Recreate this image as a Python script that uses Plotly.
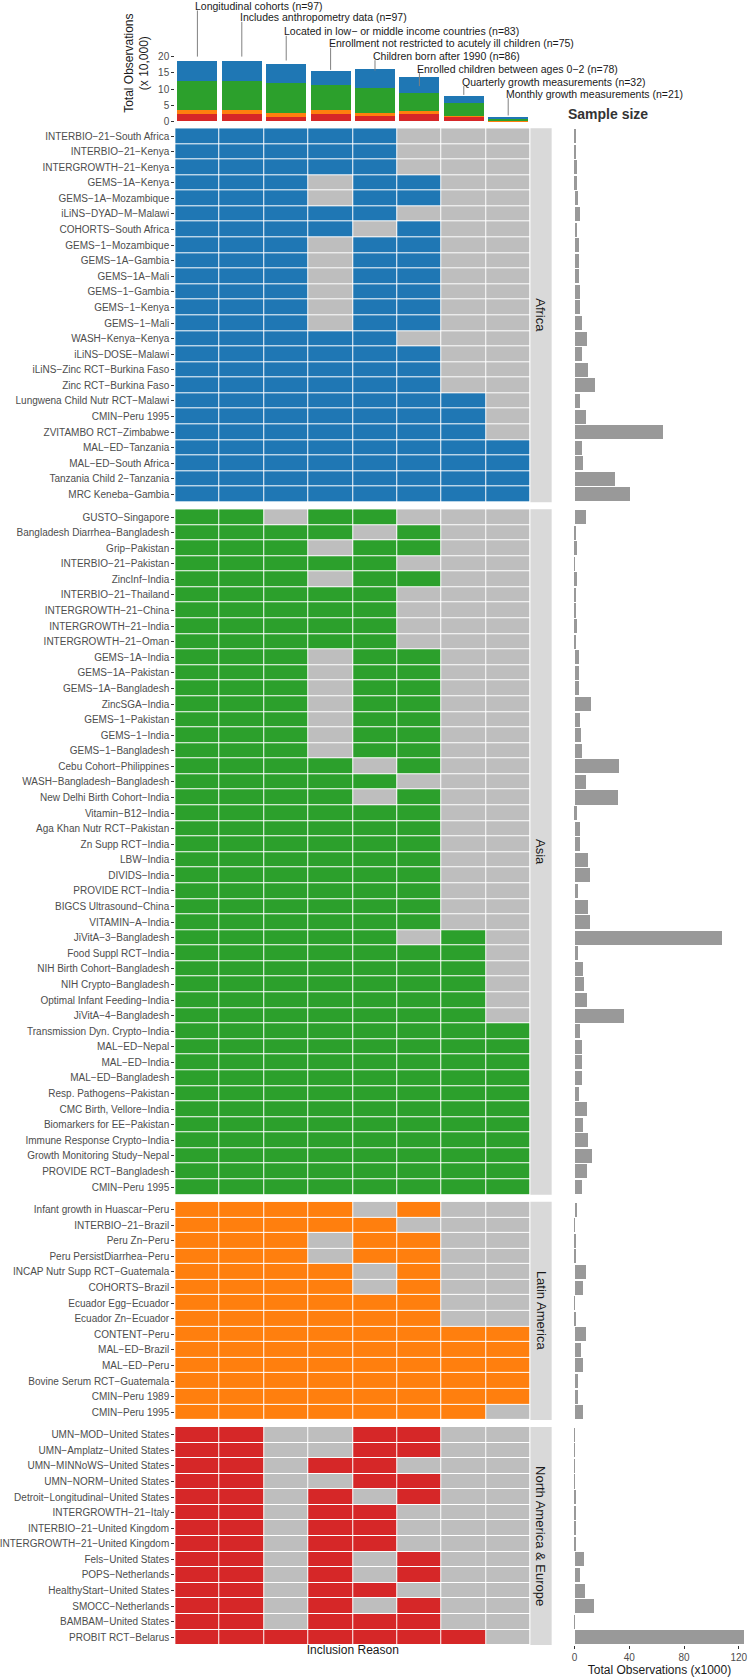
import plotly.graph_objects as go

W, H = 753, 1680
FONT = "Liberation Sans, Arial, Helvetica, sans-serif"

# ---------------- data ----------------
criteria = [
    "Longitudinal cohorts (n=97)",
    "Includes anthropometry data (n=97)",
    "Located in low\u2212 or middle income countries (n=83)",
    "Enrollment not restricted to acutely ill children (n=75)",
    "Children born after 1990 (n=86)",
    "Enrolled children between ages 0\u22122 (n=78)",
    "Quarterly growth measurements (n=32)",
    "Monthly growth measurements (n=21)",
]

region_names = ["Africa", "Asia", "Latin America", "North America & Europe"]
region_colors = ["#1f77b4", "#2ca02c", "#ff7f0e", "#d62728"]

# top stacked bars: total observations (x 10,000) by region per inclusion reason
top_africa = [6.0, 6.0, 5.8, 4.5, 5.9, 4.9, 2.3, 0.3]
top_asia = [9.1, 9.1, 9.2, 7.7, 7.9, 5.6, 3.9, 0.45]
top_latam = [1.1, 1.1, 1.2, 1.0, 0.7, 1.0, 0.2, 0.35]
top_naeu = [2.4, 2.4, 1.4, 2.4, 1.8, 2.2, 1.6, 0.0]

africa_studies = [
    "INTERBIO\u221221\u2212South Africa", "INTERBIO\u221221\u2212Kenya", "INTERGROWTH\u221221\u2212Kenya",
    "GEMS\u22121A\u2212Kenya", "GEMS\u22121A\u2212Mozambique", "iLiNS\u2212DYAD\u2212M\u2212Malawi",
    "COHORTS\u2212South Africa", "GEMS\u22121\u2212Mozambique", "GEMS\u22121A\u2212Gambia",
    "GEMS\u22121A\u2212Mali", "GEMS\u22121\u2212Gambia", "GEMS\u22121\u2212Kenya", "GEMS\u22121\u2212Mali",
    "WASH\u2212Kenya\u2212Kenya", "iLiNS\u2212DOSE\u2212Malawi", "iLiNS\u2212Zinc RCT\u2212Burkina Faso",
    "Zinc RCT\u2212Burkina Faso", "Lungwena Child Nutr RCT\u2212Malawi", "CMIN\u2212Peru 1995",
    "ZVITAMBO RCT\u2212Zimbabwe", "MAL\u2212ED\u2212Tanzania", "MAL\u2212ED\u2212South Africa",
    "Tanzania Child 2\u2212Tanzania", "MRC Keneba\u2212Gambia",
]
africa_inclusion = [
    "11111000", "11111000", "11111000", "11101100", "11101100", "11111000",
    "11110100", "11101100", "11101100", "11101100", "11101100", "11101100", "11101100",
    "11111000", "11111100", "11111100", "11111100", "11111110", "11111110",
    "11111110", "11111111", "11111111", "11111111", "11111111",
]
africa_obs = [0.7, 0.7, 1.4, 1.4, 2.2, 4.3, 1.7, 2.9, 3.1, 3.4, 3.9, 4.3, 5.1,
              8.9, 5.1, 9.9, 14.9, 4.1, 8.4, 64.3, 5.5, 6.0, 29.4, 40.2]

asia_studies = [
    "GUSTO\u2212Singapore", "Bangladesh Diarrhea\u2212Bangladesh", "Grip\u2212Pakistan",
    "INTERBIO\u221221\u2212Pakistan", "ZincInf\u2212India", "INTERBIO\u221221\u2212Thailand",
    "INTERGROWTH\u221221\u2212China", "INTERGROWTH\u221221\u2212India", "INTERGROWTH\u221221\u2212Oman",
    "GEMS\u22121A\u2212India", "GEMS\u22121A\u2212Pakistan", "GEMS\u22121A\u2212Bangladesh",
    "ZincSGA\u2212India", "GEMS\u22121\u2212Pakistan", "GEMS\u22121\u2212India", "GEMS\u22121\u2212Bangladesh",
    "Cebu Cohort\u2212Philippines", "WASH\u2212Bangladesh\u2212Bangladesh", "New Delhi Birth Cohort\u2212India",
    "Vitamin\u2212B12\u2212India", "Aga Khan Nutr RCT\u2212Pakistan", "Zn Supp RCT\u2212India",
    "LBW\u2212India", "DIVIDS\u2212India", "PROVIDE RCT\u2212India", "BIGCS Ultrasound\u2212China",
    "VITAMIN\u2212A\u2212India", "JiVitA\u22123\u2212Bangladesh", "Food Suppl RCT\u2212India",
    "NIH Birth Cohort\u2212Bangladesh", "NIH Crypto\u2212Bangladesh", "Optimal Infant Feeding\u2212India",
    "JiVitA\u22124\u2212Bangladesh", "Transmission Dyn. Crypto\u2212India", "MAL\u2212ED\u2212Nepal",
    "MAL\u2212ED\u2212India", "MAL\u2212ED\u2212Bangladesh", "Resp. Pathogens\u2212Pakistan",
    "CMC Birth, Vellore\u2212India", "Biomarkers for EE\u2212Pakistan", "Immune Response Crypto\u2212India",
    "Growth Monitoring Study\u2212Nepal", "PROVIDE RCT\u2212Bangladesh", "CMIN\u2212Peru 1995",
]
asia_inclusion = [
    "11011000", "11110100", "11101100", "11111000", "11101100", "11111000",
    "11111000", "11111000", "11111000", "11101100", "11101100", "11101100",
    "11101100", "11101100", "11101100", "11101100", "11110100", "11111000",
    "11110100", "11111100", "11111100", "11111100", "11111100", "11111100",
    "11111100", "11111100", "11111100", "11111010", "11111110", "11111110",
    "11111110", "11111110", "11111110", "11111111", "11111111", "11111111",
    "11111111", "11111111", "11111111", "11111111", "11111111", "11111111",
    "11111111", "11111111",
]
asia_obs = [8.4, 1.2, 1.4, 0.2, 1.4, 0.7, 0.7, 1.4, 1.2, 2.9, 2.9, 3.4,
            11.8, 4.3, 4.8, 5.3, 32.5, 8.4, 32.0, 1.4, 4.1, 3.6, 9.9, 11.1,
            2.2, 9.9, 11.3, 107.7, 2.4, 6.3, 7.0, 9.4, 35.9, 3.6, 5.5, 5.5,
            5.5, 3.1, 8.9, 6.5, 9.9, 12.8, 9.2, 5.3]

latam_studies = [
    "Infant growth in Huascar\u2212Peru", "INTERBIO\u221221\u2212Brazil", "Peru Zn\u2212Peru",
    "Peru PersistDiarrhea\u2212Peru", "INCAP Nutr Supp RCT\u2212Guatemala", "COHORTS\u2212Brazil",
    "Ecuador Egg\u2212Ecuador", "Ecuador Zn\u2212Ecuador", "CONTENT\u2212Peru", "MAL\u2212ED\u2212Brazil",
    "MAL\u2212ED\u2212Peru", "Bovine Serum RCT\u2212Guatemala", "CMIN\u2212Peru 1989", "CMIN\u2212Peru 1995",
]
latam_inclusion = [
    "11110100", "11111000", "11101100", "11101100", "11110100", "11110100",
    "11111100", "11111100", "11111111", "11111111", "11111111", "11111111",
    "11111111", "11111110",
]
latam_obs = [1.9, 0.2, 1.2, 1.2, 8.0, 5.8, 0.2, 1.0, 8.4, 4.6, 5.8, 2.4, 2.7, 5.8]

naeu_studies = [
    "UMN\u2212MOD\u2212United States", "UMN\u2212Amplatz\u2212United States", "UMN\u2212MINNoWS\u2212United States",
    "UMN\u2212NORM\u2212United States", "Detroit\u2212Longitudinal\u2212United States", "INTERGROWTH\u221221\u2212Italy",
    "INTERBIO\u221221\u2212United Kingdom", "INTERGROWTH\u221221\u2212United Kingdom", "Fels\u2212United States",
    "POPS\u2212Netherlands", "HealthyStart\u2212United States", "SMOCC\u2212Netherlands",
    "BAMBAM\u2212United States", "PROBIT RCT\u2212Belarus",
]
naeu_inclusion = [
    "11001100", "11001100", "11011000", "11001100", "11010100", "11011000",
    "11011000", "11011000", "11010100", "11010100", "11011000", "11010100",
    "11011100", "11111110",
]
naeu_obs = [0.3, 0.3, 0.1, 0.1, 1.0, 0.7, 0.6, 0.7, 6.7, 3.6, 7.5, 14.2, 0.3, 124.1]

# ---------------- layout constants (pixels) ----------------
label_y = [35.6, 32.1, 27.8, 24.1, 20.3, 16.3, 12.3, 8.6]
line_end = [20.0, 20.0, 18.8, 15.9, 15.7, 10.9, 8.2, 1.85]

HM_L, HM_R = 169, 528
STRIP_L, STRIP_R = 528, 549.5
BAR_L, BAR_R = 564.1, 752.9
TOP_T, TOP_B = 2, 124.5
ROW_H = 15.61
GAP = 7.0
FACET_TOP0 = 128.5


def px_x(p):
    return p / W


def px_y(p):
    return 1 - p / H


studies = [africa_studies, asia_studies, latam_studies, naeu_studies]
inclusion = [africa_inclusion, asia_inclusion, latam_inclusion, naeu_inclusion]
obs = [africa_obs, asia_obs, latam_obs, naeu_obs]
tops = [top_africa, top_asia, top_latam, top_naeu]

fig = go.Figure()
layout = dict(
    width=W, height=H, margin=dict(l=0, r=0, t=0, b=0),
    paper_bgcolor="white", plot_bgcolor="white",
    showlegend=False, barmode="stack",
    font=dict(family=FONT, color="#4d4d4d", size=10),
)

# ---------- top stacked bar chart ----------
xs = list(range(len(criteria)))
for r in [3, 2, 1, 0]:
    fig.add_trace(go.Bar(
        x=xs, y=tops[r], width=0.9, marker=dict(color=region_colors[r], line=dict(width=0)),
        xaxis="x", yaxis="y", hoverinfo="skip"))

zero_px = 121.7
ppu = 3.25
layout["xaxis"] = dict(domain=[px_x(HM_L), px_x(HM_R)], range=[-0.5, 7.5], showgrid=False,
                       zeroline=False, showticklabels=False, ticks="", fixedrange=True)
layout["yaxis"] = dict(domain=[px_y(TOP_B), px_y(TOP_T)],
                       range=[-(TOP_B - zero_px) / ppu, (zero_px - TOP_T) / ppu],
                       tickvals=[0, 5, 10, 15, 20], ticks="outside", ticklen=3, tickcolor="#333333",
                       showgrid=False, zeroline=False, showline=False, fixedrange=True,
                       tickfont=dict(size=10, color="#4d4d4d"),
                       title=dict(text="Total Observations<br>(x 10,000)",
                                  font=dict(size=12, color="#1a1a1a"), standoff=6))

shapes = []
annotations = []
for i, txt in enumerate(criteria):
    annotations.append(dict(x=i, y=label_y[i], xref="x", yref="y", text=txt, showarrow=False,
                            xanchor="left", yanchor="middle", xshift=-4,
                            font=dict(size=10.5, color="#1a1a1a")))
    shapes.append(dict(type="line", xref="x", yref="y", x0=i, x1=i,
                       y0=label_y[i] - 1.4, y1=line_end[i],
                       line=dict(color="#808080", width=1)))

annotations.append(dict(x=px_x(BAR_L), y=px_y(114), xref="paper", yref="paper", text="<b>Sample size</b>",
                        showarrow=False, xanchor="left", yanchor="middle",
                        font=dict(size=14, color="#333333")))

# ---------- facets ----------
top_px = FACET_TOP0
for f in range(4):
    n = len(studies[f])
    bot_px = top_px + n * ROW_H
    hx, hy = 2 + 2 * f, 2 + 2 * f
    bx, by = 3 + 2 * f, 3 + 2 * f
    z = [[int(c) for c in s] for s in inclusion[f]]
    col = region_colors[f]
    fig.add_trace(go.Heatmap(
        z=z, x=xs, y=list(range(n)), zmin=0, zmax=1, showscale=False,
        colorscale=[[0, "#bebebe"], [0.5, "#bebebe"], [0.5, col], [1, col]],
        xgap=1, ygap=1, xaxis=f"x{hx}", yaxis=f"y{hy}", hoverinfo="skip"))
    fig.add_trace(go.Bar(
        x=obs[f], y=list(range(n)), orientation="h", width=0.9,
        marker=dict(color="#999999", line=dict(width=0)),
        xaxis=f"x{bx}", yaxis=f"y{by}", hoverinfo="skip"))

    ydom = [px_y(bot_px), px_y(top_px)]
    last = f == 3
    layout[f"xaxis{hx}"] = dict(domain=[px_x(HM_L), px_x(HM_R)], range=[-0.5, 7.5], anchor=f"y{hy}",
                                showgrid=False, zeroline=False, showticklabels=False, ticks="",
                                fixedrange=True,
                                title=dict(text="Inclusion Reason" if last else "",
                                           font=dict(size=12, color="#1a1a1a"), standoff=0))
    layout[f"yaxis{hy}"] = dict(domain=ydom, range=[n - 0.5, -0.5], anchor=f"x{hx}",
                                tickmode="array", tickvals=list(range(n)), ticktext=studies[f],
                                ticks="outside", ticklen=3, tickcolor="#333333",
                                showgrid=False, zeroline=False, showline=False, fixedrange=True,
                                tickfont=dict(size=10, color="#4d4d4d"))
    layout[f"xaxis{bx}"] = dict(domain=[px_x(BAR_L), px_x(BAR_R)], range=[-6.2, 130.3], anchor=f"y{by}",
                                showgrid=False, zeroline=False, fixedrange=True,
                                showticklabels=last, ticks="outside" if last else "",
                                tickvals=[0, 40, 80, 120], ticklen=3, tickcolor="#333333",
                                tickfont=dict(size=10, color="#4d4d4d"),
                                title=dict(text="Total Observations (x1000)" if last else "",
                                           font=dict(size=12, color="#1a1a1a"), standoff=2))
    layout[f"yaxis{by}"] = dict(domain=ydom, range=[n - 0.5, -0.5], anchor=f"x{bx}",
                                showticklabels=False, ticks="", showgrid=False, zeroline=False,
                                showline=False, fixedrange=True)

    # strip
    shapes.append(dict(type="rect", xref="paper", yref="paper",
                       x0=px_x(STRIP_L), x1=px_x(STRIP_R), y0=ydom[0], y1=ydom[1],
                       fillcolor="#d9d9d9", line=dict(width=0), layer="below"))
    annotations.append(dict(x=px_x((STRIP_L + STRIP_R) / 2), y=(ydom[0] + ydom[1]) / 2,
                            xref="paper", yref="paper", text=region_names[f], textangle=90,
                            showarrow=False, xanchor="center", yanchor="middle",
                            font=dict(size=13, color="#1a1a1a")))
    top_px = bot_px + GAP

layout["shapes"] = shapes
layout["annotations"] = annotations
fig.update_layout(**layout)
fig.write_html("out.html", config={"displayModeBar": False},
               post_script="document.body.style.margin='0px';document.body.style.overflow='hidden';")
